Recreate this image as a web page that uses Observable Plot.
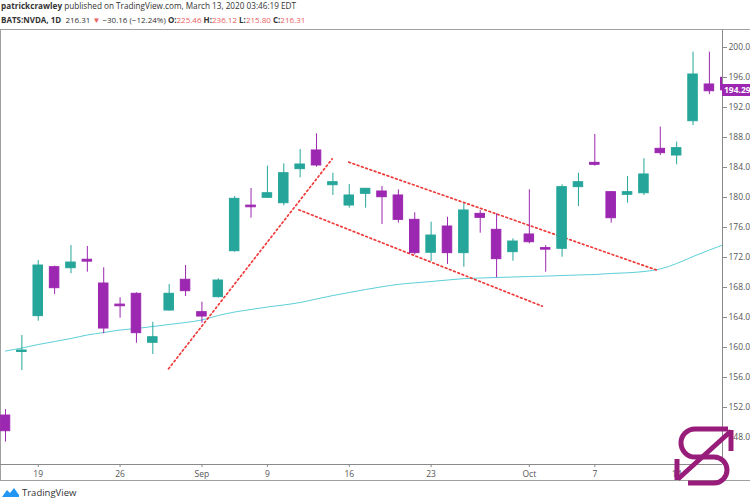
<!DOCTYPE html>
<html>
<head>
<meta charset="utf-8">
<script src="https://cdn.jsdelivr.net/npm/d3@7"></script>
<script src="https://cdn.jsdelivr.net/npm/@observablehq/plot@0.6"></script>
<style>
  html, body { margin: 0; padding: 0; background: #fff; }
  #wrap { position: relative; width: 750px; height: 500px; overflow: hidden; font-family: "Open Sans", "Liberation Sans", Arial, sans-serif; }
  #hdr { position: absolute; left: 1px; top: 0px; color: #333; white-space: nowrap; }
  #hdr .l1 { font-size: 8.2px; line-height: 12px; height: 14px; }
  #hdr .l2 { font-size: 8px; line-height: 12px; }
  #hdr b { font-weight: 700; }
  #hdr .r { color: #e86060; }
  #box { position: absolute; left: 0; top: 29px; width: 800px; height: 452px; border: 1px solid #a0a0a0; box-sizing: border-box; }
  #chart { position: absolute; left: 0; top: 30px; }
  #price { position: absolute; left: 722px; width: 30px; height: 12px; background: #9c27b0; color: #fff; font: bold 8.5px "Open Sans", Arial, sans-serif; line-height: 12px; padding-left: 2px; box-sizing: border-box; }
  #foot { position: absolute; left: 2px; top: 486px; font-size: 9.5px; color: #333; display: flex; align-items: center; gap: 3px; }
  #logo { position: absolute; left: 0; top: 0; pointer-events: none; }
</style>
</head>
<body>
<div id="wrap">
  <div id="hdr">
    <div class="l1"><b>patrickcrawley</b> published on TradingView.com, March 13, 2020 03:46:19 EDT</div>
    <div class="l2"><b>BATS:NVDA, 1D</b>&nbsp; 216.31 <span class="r">▼</span> −30.16 (−12.24%) <b>O:</b><span class="r">225.46</span> <b>H:</b><span class="r">236.12</span> <b>L:</b><span class="r">215.80</span> <b>C:</b><span class="r">216.31</span></div>
  </div>
  <div id="box"></div>
  <div id="chart"></div>
  <div id="price"></div>
  <div id="foot">
    <svg width="17" height="11" viewBox="0 0 17 11"><path d="M0 10 L5 3 L8 6 L12 1 L17 8 L17 10 Z" fill="#2196f3"/></svg>
    <span>TradingView</span>
  </div>
  <svg id="logo" width="750" height="500">
    <g fill="none" stroke="#981d7a" stroke-width="5">
      <path d="M728 429 L695 429 A14 14 0 0 0 695 457 L714 457 A13 13 0 0 1 714 483 L688 483"/>
      <path d="M678 479 L731 431"/>
      <path d="M731 430 L731 451"/>
      <path d="M677 480 L677 459"/>
    </g>
  </svg>
</div>
<script>
// ---- data ----
const dates = ["2019-08-15","2019-08-16","2019-08-19","2019-08-20","2019-08-21","2019-08-22","2019-08-23",
  "2019-08-26","2019-08-27","2019-08-28","2019-08-29","2019-08-30","2019-09-03","2019-09-04","2019-09-05",
  "2019-09-06","2019-09-09","2019-09-10","2019-09-11","2019-09-12","2019-09-13","2019-09-16","2019-09-17",
  "2019-09-18","2019-09-19","2019-09-20","2019-09-23","2019-09-24","2019-09-25","2019-09-26","2019-09-27",
  "2019-09-30","2019-10-01","2019-10-02","2019-10-03","2019-10-04","2019-10-07","2019-10-08","2019-10-09",
  "2019-10-10","2019-10-11","2019-10-14","2019-10-15","2019-10-16","2019-10-17"];
const open  = [150.93,159.40,164.18,170.71,170.57,171.70,168.53,165.72,167.16,160.63,164.93,169.03,164.71,166.71,172.84,
  178.92,179.96,179.24,183.78,186.27,181.64,178.93,180.49,180.80,180.27,177.02,172.63,176.13,172.58,177.82,175.69,
  172.71,175.07,173.25,173.16,181.38,184.62,180.71,180.36,180.57,186.49,185.60,190.17,195.07,195.96];
const high  = [151.73,161.60,171.60,170.85,173.60,173.47,170.63,166.63,167.30,163.37,168.40,170.93,166.04,169.16,180.13,
  181.20,184.17,184.49,186.40,188.49,183.24,181.73,181.20,181.47,181.02,177.96,176.71,177.37,179.16,178.27,177.82,
  174.49,181.02,173.60,181.69,183.24,188.40,180.80,182.80,185.16,189.38,187.38,199.38,199.38,196.50];
const low   = [147.40,156.93,163.51,167.07,169.83,170.04,161.83,163.91,160.57,159.07,164.85,166.80,163.24,166.60,172.71,
  177.24,179.90,178.89,182.63,184.04,180.27,178.57,178.57,176.40,176.58,172.36,171.47,171.07,170.71,175.24,169.29,
  171.51,173.82,170.04,172.04,178.80,184.17,176.58,179.24,180.27,185.60,184.36,189.60,193.73,193.90];
const close = [148.84,159.60,170.93,167.91,171.33,171.45,162.53,165.50,161.91,161.37,167.16,167.51,164.13,168.93,179.82,
  178.70,180.57,183.24,184.40,184.27,182.04,180.27,181.16,180.04,177.02,172.58,174.93,172.58,178.27,177.29,171.78,
  174.13,174.04,173.05,181.38,182.04,184.36,177.24,180.71,183.07,185.91,186.58,196.40,194.17,194.29];
const ma = [159.53,159.93,160.40,160.80,161.20,161.67,162.00,162.33,162.53,162.80,163.07,163.33,163.67,164.27,164.73,
  165.07,165.40,165.67,166.00,166.47,166.93,167.33,167.73,168.10,168.42,168.62,168.80,169.00,169.18,169.27,169.33,
  169.40,169.47,169.52,169.60,169.67,169.73,169.87,169.96,170.13,170.47,171.20,172.13,173.00,173.80];
// hand-drawn trend lines (start/end bar position and price)
const trendStartIdx = [9.96, 17.92, 20.97];
const trendStartVal = [157.16, 178.36, 184.71];
const trendEndIdx   = [19.96, 32.79, 39.85];
const trendEndVal   = [185.16, 165.51, 170.27];
const xTickIdx    = [2, 7, 12, 16, 21, 26, 32, 36, 41];
const xTickLabels = ["19", "26", "Sep", "9", "16", "23", "Oct", "7", "14"];
const yTicks = [148,152,156,160,164,168,172,176,180,184,188,192,196,200];
const lastPrice = 194.29;

// ---- build tables ----
const TEAL = "#26a69a", PURPLE = "#9c27b0";
const rows = dates.map((d, i) => ({i, date: d, open: open[i], high: high[i], low: low[i], close: close[i], up: close[i] >= open[i]}));
const maRows = ma.map((v, i) => ({i, v}));
const trendRows = trendStartIdx.flatMap((s, k) => [
  {id: k, i: s, v: trendStartVal[k]},
  {id: k, i: trendEndIdx[k], v: trendEndVal[k]}
]);
const xLab = new Map(xTickIdx.map((t, k) => [t, xTickLabels[k]]));
const X0 = -0.305, X1 = 43.8, Y0 = 144.4, Y1 = 202.267;

const chart = Plot.plot({
  width: 750,
  height: 451,
  marginTop: 0,
  marginLeft: 0,
  marginRight: 28,
  marginBottom: 17,
  style: {fontFamily: "'Open Sans', 'Liberation Sans', Arial, sans-serif", fontSize: "8.5px", color: "#555", background: "transparent", overflow: "visible"},
  x: {domain: [X0, X1], label: null},
  y: {domain: [Y0, Y1], label: null},
  marks: [
    Plot.line(maRows, {x: "i", y: "v", stroke: "#5ccfd9", strokeWidth: 1, curve: "monotone-x", clip: true}),
    Plot.line(trendRows, {x: "i", y: "v", z: "id", stroke: "#ee3a3a", strokeWidth: 1.7, strokeDasharray: "1.7 2.8", clip: true}),
    Plot.ruleX(rows, {x: "i", y1: "low", y2: "high", stroke: d => d.up ? TEAL : PURPLE, strokeWidth: 1, clip: true}),
    Plot.rect(rows, {x1: d => d.i - 0.29, x2: d => d.i + 0.29, y1: "open", y2: "close",
      fill: d => d.up ? TEAL : PURPLE, stroke: d => d.up ? TEAL : PURPLE, strokeWidth: 1, clip: true}),
    Plot.ruleX([X1], {stroke: "#8a8a8a"}),
    Plot.ruleY([Y0], {stroke: "#8a8a8a"}),
    Plot.axisY(yTicks, {anchor: "right", tickFormat: d => d.toFixed(2), tickSize: 4, tickPadding: 2, stroke: "#8a8a8a", fill: "#555", label: null}),
    Plot.axisX(xTickIdx, {anchor: "bottom", tickFormat: t => xLab.get(t), tickSize: 3, tickPadding: 3, stroke: "#8a8a8a", fill: "#555", label: null})
  ]
});
document.getElementById("chart").appendChild(chart);

const yPix = chart.scale("y").apply(lastPrice);
const price = document.getElementById("price");
price.textContent = lastPrice.toFixed(2);
price.style.top = (30 + yPix - 6) + "px";
</script>
</body>
</html>
